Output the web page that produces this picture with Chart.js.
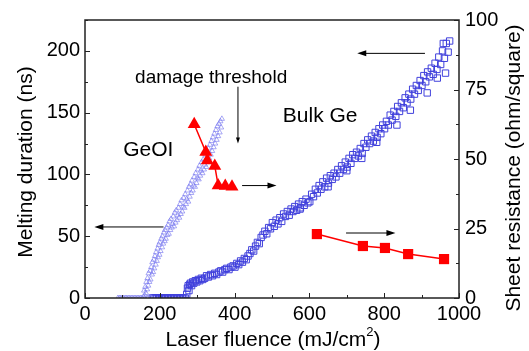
<!DOCTYPE html>
<html>
<head>
<meta charset="utf-8">
<title>Melting duration / sheet resistance vs laser fluence</title>
<script src="https://cdn.jsdelivr.net/npm/chart.js@4.4.1/dist/chart.umd.min.js"></script>
<style>
    html, body { margin: 0; padding: 0; background: #fff; }
    #chart { display: block; }
</style>
</head>
<body>
<canvas id="chart" width="529" height="351"></canvas>
<script>
// Melting duration (ns), GeOI, open triangles
const geoiMeltX = [
    88, 92, 96, 100, 104, 108, 112, 116, 120, 124, 128, 132, 136, 140, 144, 148, 152, 160, 168, 176,
    156, 158, 160, 161, 163, 164, 166, 167, 169, 170, 172, 174, 175, 177, 179, 180, 182, 184, 185, 187,
    189, 190, 192, 194, 195, 197, 199, 200, 202, 204, 206, 207, 209, 211, 213, 214, 216, 218, 220, 222,
    224, 226, 228, 230, 232, 234, 236, 238, 240, 242, 244, 246, 248, 250, 252, 254, 256, 258, 260, 262,
    264, 266, 268, 270, 272, 274, 276, 278, 280, 282, 284, 286, 288, 290, 292, 294, 296, 298, 300, 302,
    304, 306, 308, 310, 312, 314, 316, 318, 320, 322, 324, 326, 328, 330, 332, 334, 336, 338, 340, 342,
    344, 346, 348, 350, 352, 354, 356, 358, 360, 362, 364, 366
];
const geoiMeltY = [
    0, 0, 0, 0, 0, 0, 0, 0, 0, 0, 0, 0, 0, 0, 0, 0, 0, 0, 0, 0,
    1, 6, 2, 9, 4, 13, 7, 16, 10, 20, 13, 22, 15, 25, 19, 29, 21, 31, 24, 34,
    27, 37, 30, 40, 33, 43, 35, 45, 38, 48, 41, 50, 44, 53, 46, 55, 48, 57, 51, 59,
    52, 62, 55, 64, 57, 60, 66, 58, 69, 61, 71, 63, 67, 73, 65, 76, 68, 79, 70, 74,
    81, 73, 84, 76, 80, 87, 78, 90, 82, 92, 85, 95, 87, 91, 98, 90, 101, 93, 97, 104,
    96, 107, 99, 103, 110, 101, 112, 104, 108, 116, 106, 118, 110, 121, 113, 124, 116, 127, 119, 130,
    122, 133, 125, 136, 128, 139, 131, 141, 134, 143, 138, 145
];

// Melting duration (ns), bulk Ge, open squares
const bulkMeltX = [
    180, 184, 188, 192, 196, 200, 204, 208, 212, 216, 220, 224, 228, 232, 236, 240, 244, 248, 252, 256,
    260, 264, 268, 272, 274, 276, 278, 280, 282, 285, 288, 291, 295, 299, 303, 307, 311, 315, 320, 325,
    330, 336, 341, 347, 352, 358, 363, 368, 374, 379, 385, 390, 396, 401, 406, 411, 416, 421, 426, 431,
    436, 441, 446, 451, 456, 461, 466, 471, 476, 481, 486, 491, 496, 501, 506, 511, 516, 521, 526, 531,
    536, 541, 546, 551, 556, 561, 566, 571, 576, 581, 586, 591, 596, 601, 606, 611, 616, 621, 626, 631,
    636, 641, 646, 651, 656, 661, 666, 671, 676, 681, 686, 691, 696, 701, 706, 711, 716, 721, 726, 731,
    736, 741, 746, 751, 756, 761, 766, 771, 776, 781, 786, 791, 796, 801, 806, 811, 816, 821, 826, 831,
    836, 841, 846, 851, 856, 861, 866, 871, 876, 881, 886, 891, 896, 901, 906, 911, 916, 921, 926, 931,
    936, 941, 946, 951, 956, 961, 966, 971, 975, 958, 964, 942, 915, 870, 834, 780, 740, 700, 650, 575
];
const bulkMeltY = [
    0, 0, 0, 0, 0, 0, 0, 0, 0, 0, 0, 0, 0, 0, 0, 0, 0, 0, 0, 0,
    0, 0, 0, 3, 8, 10, 6, 11, 12, 10, 13, 12, 14, 13, 15, 14, 16, 15, 16, 18,
    17, 19, 18, 20, 19, 21, 22, 21, 23, 24, 23, 25, 26, 25, 28, 27, 30, 29, 32, 31,
    34, 36, 39, 38, 42, 45, 44, 49, 51, 54, 52, 57, 56, 61, 58, 63, 60, 65, 62, 68,
    66, 70, 67, 72, 70, 74, 71, 76, 73, 78, 75, 80, 77, 78, 84, 82, 88, 85, 91, 88,
    94, 90, 97, 93, 99, 96, 101, 98, 104, 101, 107, 104, 110, 106, 113, 109, 116, 113, 118, 115,
    121, 117, 125, 122, 128, 125, 131, 127, 134, 130, 137, 133, 140, 137, 143, 140, 148, 144, 151, 147,
    155, 151, 158, 154, 162, 158, 165, 161, 169, 165, 172, 168, 176, 172, 180, 175, 183, 179, 186, 181,
    190, 185, 195, 189, 200, 194, 206, 199, 208, 206, 182, 178, 166, 152, 140, 126, 113, 103, 90, 72
];

// Sheet resistance (ohm/square), filled red markers
const geoiResX = [292, 323, 327, 347, 356, 375, 393];
const geoiResY = [62.5, 52.5, 49.5, 47.5, 40.5, 40.3, 40];
const bulkResX = [620, 743, 802, 864, 960];
const bulkResY = [23, 18.7, 18, 15.8, 14];

// Tick labels of the three axes
const xTickValues = [0, 200, 400, 600, 800, 1000];
const meltTickValues = [0, 50, 100, 150, 200];
const resTickValues = [0, 25, 50, 75, 100];

const FONT = '"Liberation Sans", Arial, sans-serif';

/**
 * Zips two arrays into {x, y} points
 */
function toPoints(xs, ys) {
    return xs.map((x, i) => ({ x: x, y: ys[i] }));
}

/**
 * Draws a line with a filled arrow head at (x2, y2)
 */
function drawArrow(ctx, x1, y1, x2, y2, headLen, headHalf) {
    const ang = Math.atan2(y2 - y1, x2 - x1);
    ctx.beginPath();
    ctx.moveTo(x1, y1);
    ctx.lineTo(x2 - Math.cos(ang) * headLen * 0.8, y2 - Math.sin(ang) * headLen * 0.8);
    ctx.stroke();
    ctx.beginPath();
    ctx.moveTo(x2, y2);
    ctx.lineTo(x2 - Math.cos(ang) * headLen - Math.sin(ang) * headHalf,
               y2 - Math.sin(ang) * headLen + Math.cos(ang) * headHalf);
    ctx.lineTo(x2 - Math.cos(ang) * headLen + Math.sin(ang) * headHalf,
               y2 - Math.sin(ang) * headLen - Math.cos(ang) * headHalf);
    ctx.closePath();
    ctx.fill();
}

// Frame, inward ticks, axis titles and annotations
const frameAndNotes = {
    id: 'frameAndNotes',
    afterDraw(chart) {
        const { ctx, chartArea: a, scales } = chart;
        const xs = scales.x, yl = scales.yMelt, yr = scales.yRes;
        ctx.save();

        ctx.strokeStyle = '#222';
        ctx.fillStyle = '#000';
        ctx.lineWidth = 1.5;
        ctx.strokeRect(a.left, a.top, a.right - a.left, a.bottom - a.top);

        // inward ticks, majors on labelled values, minors halfway
        ctx.lineWidth = 1;
        ctx.beginPath();
        for (let v = 0; v <= 1000; v += 100) {
            const px = Math.round(xs.getPixelForValue(v)) + 0.5;
            const len = v % 200 === 0 ? 5 : 3;
            ctx.moveTo(px, a.bottom);
            ctx.lineTo(px, a.bottom - len);
        }
        for (let v = 0; v <= 225; v += 25) {
            const py = Math.round(yl.getPixelForValue(v)) + 0.5;
            const len = v % 50 === 0 ? 5 : 3;
            ctx.moveTo(a.left, py);
            ctx.lineTo(a.left + len, py);
        }
        for (let v = 0; v <= 100; v += 12.5) {
            const py = Math.round(yr.getPixelForValue(v)) + 0.5;
            const len = v % 25 === 0 ? 5 : 3;
            ctx.moveTo(a.right, py);
            ctx.lineTo(a.right - len, py);
        }
        ctx.stroke();

        // axis titles
        ctx.font = '21px ' + FONT;
        ctx.textBaseline = 'alphabetic';
        ctx.textAlign = 'left';
        const main = 'Laser fluence (mJ/cm';
        const mainW = ctx.measureText(main).width;
        ctx.font = '13px ' + FONT;
        const supW = ctx.measureText('2').width;
        ctx.font = '21px ' + FONT;
        const closeW = ctx.measureText(')').width;
        let tx = (a.left + a.right) / 2 - (mainW + supW + closeW) / 2 + 1;
        ctx.fillText(main, tx, 346);
        ctx.font = '13px ' + FONT;
        ctx.fillText('2', tx + mainW, 336);
        ctx.font = '21px ' + FONT;
        ctx.fillText(')', tx + mainW + supW, 346);

        ctx.textAlign = 'center';
        ctx.save();
        ctx.translate(32, 162);
        ctx.rotate(-Math.PI / 2);
        ctx.fillText('Melting duration (ns)', 0, 0);
        ctx.restore();
        ctx.save();
        ctx.translate(520, 168);
        ctx.rotate(-Math.PI / 2);
        ctx.fillText('Sheet resistance (ohm/square)', 0, 0);
        ctx.restore();

        // text notes, placed in data units
        ctx.textAlign = 'left';
        ctx.font = '19px ' + FONT;
        ctx.fillText('damage threshold', xs.getPixelForValue(134), yl.getPixelForValue(174));
        ctx.font = '21px ' + FONT;
        ctx.textBaseline = 'middle';
        ctx.fillText('GeOI', xs.getPixelForValue(102), yl.getPixelForValue(119.5));
        ctx.fillText('Bulk Ge', xs.getPixelForValue(529), yl.getPixelForValue(147));

        // arrows pointing to the axis each data set belongs to
        ctx.strokeStyle = '#000';
        ctx.lineWidth = 1;
        const arrow = (x1, y1, x2, y2, hl, hh) => drawArrow(ctx,
            xs.getPixelForValue(x1), yl.getPixelForValue(y1),
            xs.getPixelForValue(x2), yl.getPixelForValue(y2), hl, hh);
        arrow(210, 57.5, 25, 57.5, 9, 3);
        arrow(420, 91, 512, 91, 9, 3);
        arrow(909, 198, 728, 198, 9, 3);
        arrow(698, 52.6, 830, 52.6, 9, 3);
        arrow(409, 171, 409, 125, 6, 2);

        ctx.restore();
    }
};

/**
 * Builds the chart
 */
function initializeChart() {
    const canvas = document.getElementById('chart');
    if (!canvas || !window.Chart) return;
    const ctx = canvas.getContext('2d');

    const tickFont = { family: FONT, size: 20 };
    const plainLabel = (value) => String(value);

    new Chart(ctx, {
        type: 'scatter',
        data: {
            datasets: [
                {
                    label: 'GeOI sheet resistance',
                    data: toPoints(geoiResX, geoiResY),
                    yAxisID: 'yRes',
                    showLine: true,
                    borderColor: '#ff0000',
                    backgroundColor: '#ff0000',
                    borderWidth: 1.5,
                    pointStyle: 'triangle',
                    pointRadius: 7.5,
                    pointBorderWidth: 0
                },
                {
                    label: 'Bulk Ge sheet resistance',
                    data: toPoints(bulkResX, bulkResY),
                    yAxisID: 'yRes',
                    showLine: true,
                    borderColor: '#ff0000',
                    backgroundColor: '#ff0000',
                    borderWidth: 1.5,
                    pointStyle: 'rect',
                    pointRadius: 7.2,
                    pointBorderWidth: 0
                },
                {
                    label: 'GeOI melting duration',
                    data: toPoints(geoiMeltX, geoiMeltY),
                    yAxisID: 'yMelt',
                    showLine: false,
                    borderColor: 'rgba(120, 120, 240, 0.8)',
                    backgroundColor: 'rgba(0, 0, 0, 0)',
                    pointStyle: 'triangle',
                    pointRadius: 3,
                    pointBorderWidth: 0.8
                },
                {
                    label: 'Bulk Ge melting duration',
                    data: toPoints(bulkMeltX, bulkMeltY),
                    yAxisID: 'yMelt',
                    showLine: false,
                    borderColor: '#4040dc',
                    backgroundColor: 'rgba(0, 0, 0, 0)',
                    pointStyle: 'rect',
                    pointRadius: 4.5,
                    pointBorderWidth: 1
                }
            ]
        },
        options: {
            responsive: false,
            animation: false,
            layout: { padding: { top: 20, left: 0, right: 0, bottom: 0 } },
            plugins: {
                legend: { display: false },
                tooltip: { enabled: false }
            },
            scales: {
                x: {
                    type: 'linear',
                    position: 'bottom',
                    min: 0,
                    max: 1000,
                    afterBuildTicks: (scale) => {
                        scale.ticks = xTickValues.map(v => ({ value: v }));
                    },
                    afterFit: (scale) => { scale.height = 53; },
                    grid: { display: false, drawTicks: false },
                    border: { display: false },
                    ticks: {
                        padding: 4,
                        maxRotation: 0,
                        autoSkip: false,
                        color: '#000',
                        font: tickFont,
                        callback: plainLabel
                    }
                },
                yMelt: {
                    type: 'linear',
                    position: 'left',
                    min: 0,
                    max: 225,
                    afterBuildTicks: (scale) => {
                        scale.ticks = meltTickValues.map(v => ({ value: v }));
                    },
                    afterFit: (scale) => { scale.width = 85; },
                    grid: { display: false, drawTicks: false },
                    border: { display: false },
                    ticks: {
                        padding: 5,
                        color: '#000',
                        font: tickFont,
                        callback: plainLabel
                    }
                },
                yRes: {
                    type: 'linear',
                    position: 'right',
                    min: 0,
                    max: 100,
                    afterBuildTicks: (scale) => {
                        scale.ticks = resTickValues.map(v => ({ value: v }));
                    },
                    afterFit: (scale) => { scale.width = 70; },
                    grid: { display: false, drawTicks: false },
                    border: { display: false },
                    ticks: {
                        padding: 6,
                        color: '#000',
                        font: tickFont,
                        callback: plainLabel
                    }
                }
            }
        },
        plugins: [frameAndNotes]
    });
}

initializeChart();
</script>
</body>
</html>
